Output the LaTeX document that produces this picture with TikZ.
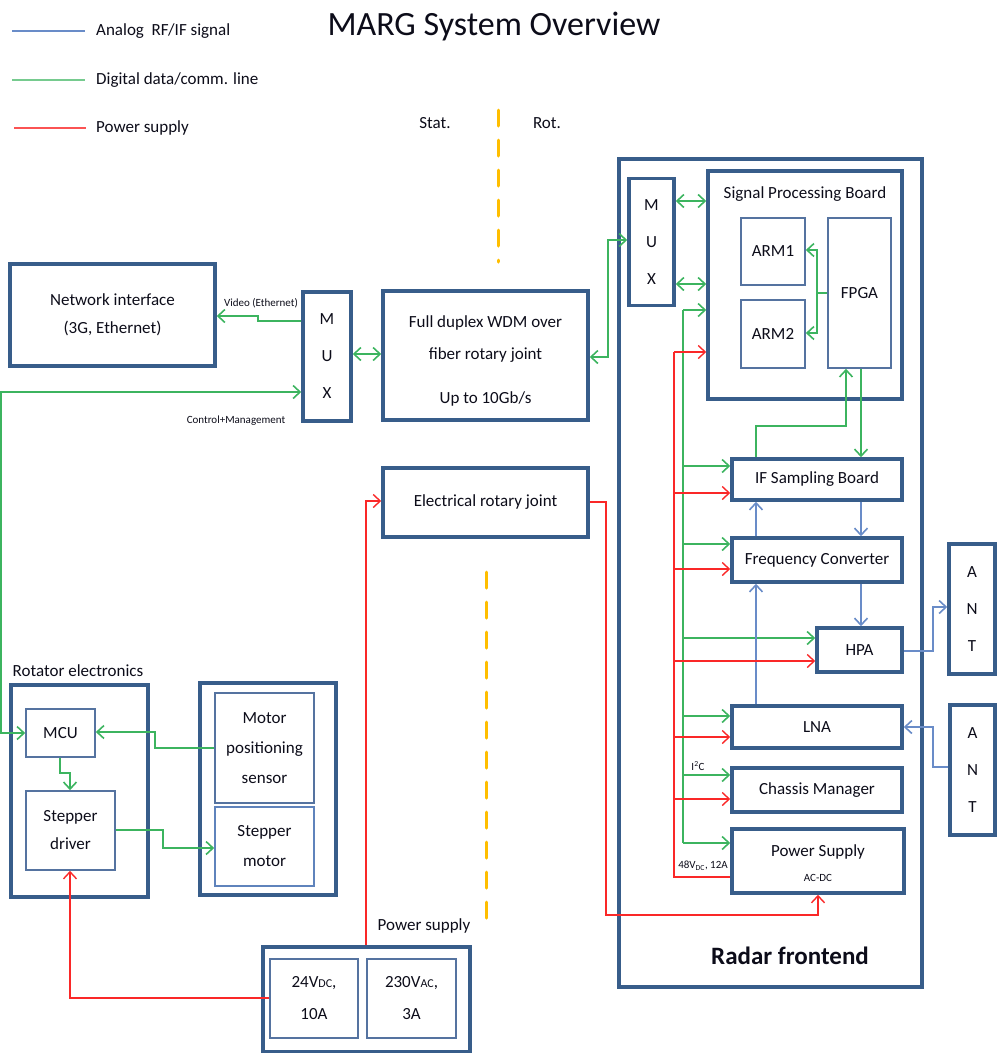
\documentclass[tikz,border=0pt]{standalone}
\usepackage{fontspec}
\setmainfont{Carlito}
\usetikzlibrary{arrows.meta,calc}
\definecolor{boxc}{RGB}{56,93,138}
\definecolor{thinc}{RGB}{85,115,160}
\definecolor{gline}{RGB}{60,180,95}
\definecolor{bline}{RGB}{105,140,200}
\definecolor{rline}{RGB}{250,40,40}
\definecolor{dashc}{RGB}{255,190,0}
\definecolor{txt}{RGB}{12,12,25}
\begin{document}
\begin{tikzpicture}[x=1pt,y=-1pt,
  every node/.style={text=txt},
  big/.style={draw=boxc, line width=3.5pt, rectangle, inner sep=0pt, align=center, font=\fontsize{17}{28}\selectfont},
  sml/.style={draw=thinc, line width=1.6pt, rectangle, inner sep=0pt, align=center, font=\fontsize{17}{28}\selectfont},
  muxt/.style={font=\fontsize{17}{37}\selectfont},
  lbl/.style={font=\fontsize{17}{20}\selectfont, inner sep=0pt},
  tiny/.style={font=\fontsize{11}{12}\selectfont, inner sep=0pt},
  dig/.style={draw=gline, line width=1.6pt},
  ana/.style={draw=bline, line width=1.6pt},
  pow/.style={draw=rline, line width=1.4pt},
  sep/.style={draw=dashc, line width=3pt, dash pattern=on 16pt off 14pt, line cap=round},
  >={Straight Barb[length=7pt,width=13pt]},
]
\useasboundingbox (0,0) rectangle (999,1053);

% title and legend
\node[font=\fontsize{34}{40}\selectfont, inner sep=0pt] (title) at (494,27) {MARG System Overview};
\coordinate (lg1a) at (12,31); \coordinate (lg1b) at (85,31);
\coordinate (lg2a) at (12,80); \coordinate (lg2b) at (85,80);
\coordinate (lg3a) at (14,128); \coordinate (lg3b) at (86,128);
\draw[ana, line width=1.3pt] (lg1a) -- (lg1b);
\draw[draw=gline!70, line width=2.5pt] (lg2a) -- (lg2b);
\draw[pow, draw=rline!80, line width=1.3pt] (lg3a) -- (lg3b);
\node[lbl, anchor=west] (lgt1) at (96,31) {Analog\ \ RF/IF signal};
\node[lbl, anchor=west] (lgt2) at (96,80) {Digital data/comm. line};
\node[lbl, anchor=west] (lgt3) at (96,128) {Power supply};

% stat/rot separator
\node[lbl] (stat) at (435,123) {Stat.};
\node[lbl] (rot) at (547,123) {Rot.};
\coordinate (s1a) at (498,110); \coordinate (s1b) at (498,262);
\coordinate (s2a) at (486,572); \coordinate (s2b) at (486,925);
\draw[sep] (s1a) -- (s1b);
\draw[sep] (s2a) -- (s2b);

% stationary side
\node[big, minimum width=205pt, minimum height=102pt] (ni) at (112.5,315) {Network interface\\(3G, Ethernet)};
\node[big, muxt, minimum width=48pt, minimum height=129pt] (mux1) at (327,356.5) {M\\U\\X};
\node[big, minimum width=205pt, minimum height=129pt] (wdm) at (485.5,355.5) {};
\node[lbl] (wdmt1) at (485.5,323) {Full duplex WDM over};
\node[lbl] (wdmt2) at (485.5,355) {fiber rotary joint};
\node[lbl] (wdmt3) at (485.5,399) {Up to 10Gb/s};
\node[big, minimum width=205pt, minimum height=69pt] (erj) at (485.5,502.5) {Electrical rotary joint};

\node[tiny] (vid) at (261,303) {Video (Ethernet)};
\node[tiny] (ctl) at (236,421) {Control+Management};

% rotator electronics
\node[lbl] (rott) at (78,671) {Rotator electronics};
\node[big, minimum width=137pt, minimum height=212pt] (rotb) at (79.5,791) {};
\node[sml, minimum width=69pt, minimum height=48pt] (mcu) at (60.5,733) {MCU};
\node[sml, minimum width=89pt, minimum height=79pt] (drv) at (70.5,830.5) {Stepper\\driver};
\node[big, minimum width=136pt, minimum height=212pt] (motb) at (268,789) {};
\node[sml, font=\fontsize{17}{30}\selectfont, minimum width=99pt, minimum height=110pt] (mps) at (264.5,748) {Motor\\positioning\\sensor};
\node[sml, draw=bline!80!boxc, font=\fontsize{17}{30}\selectfont, minimum width=99pt, minimum height=79pt] (smot) at (264.5,846.5) {Stepper\\motor};

% power supply
\node[lbl] (pwrt) at (424,926) {Power supply};
\node[big, minimum width=207pt, minimum height=105pt] (pwr) at (366.5,999.5) {};
\node[sml, font=\fontsize{17}{32}\selectfont, minimum width=88pt, minimum height=79pt] (v24) at (314,998.5) {24V{\fontsize{12}{12}\selectfont DC},\\10A};
\node[sml, font=\fontsize{17}{32}\selectfont, minimum width=89pt, minimum height=79pt] (v230) at (411.5,998.5) {230V{\fontsize{12}{12}\selectfont AC},\\3A};

% radar frontend
\node[big, minimum width=303pt, minimum height=828pt] (rf) at (770.5,573) {};
\node[font=\bfseries\fontsize{25}{30}\selectfont, inner sep=0pt] (rft) at (790,956) {Radar frontend};
\node[big, muxt, minimum width=45pt, minimum height=127pt] (mux2) at (651.5,242) {M\\U\\X};
\node[big, minimum width=194pt, minimum height=228pt] (spb) at (805,285) {};
\node[lbl] (spbt) at (805,194) {Signal Processing Board};
\node[sml, minimum width=64pt, minimum height=67pt] (arm1) at (773,251.5) {ARM1};
\node[sml, minimum width=64pt, minimum height=68pt] (arm2) at (773,334) {ARM2};
\node[sml, minimum width=63pt, minimum height=150pt] (fpga) at (859.5,293) {FPGA};
\node[big, minimum width=170pt, minimum height=41pt] (ifsb) at (817,479.5) {IF Sampling Board};
\node[big, minimum width=170pt, minimum height=44pt] (fc) at (817,560) {Frequency Converter};
\node[big, minimum width=85pt, minimum height=44pt] (hpa) at (859.5,650) {HPA};
\node[big, minimum width=170pt, minimum height=42pt] (lna) at (817,727) {LNA};
\node[big, minimum width=170pt, minimum height=44pt] (cm) at (817,790) {Chassis Manager};
\node[big, minimum width=172pt, minimum height=64pt] (psu) at (818,861) {};
\node[lbl] (psut1) at (818,852) {Power Supply};
\node[tiny] (psut2) at (818,878) {AC-DC};
\node[big, muxt, minimum width=46pt, minimum height=130pt] (ant1) at (972,609) {A\\N\\T};
\node[big, muxt, minimum width=45pt, minimum height=130pt] (ant2) at (972.5,770) {A\\N\\T};
\node[tiny] (i2c) at (698,766) {I\textsuperscript{2}C};
\node[tiny] (v48) at (703,866) {48V\textsubscript{DC}, 12A};

% --- digital connectors
\draw[dig,->] (mux1.west |- 0,321) -- (258,321) -- (258,316) -- (ni.east |- 0,316);
\draw[dig,<->] (mux1.west |- 0,392) -- (1,392) -- (1,733) -- (mcu.west);
\draw[dig,<->] (mux1.east |- 0,354) -- (wdm.west |- 0,354);
\draw[dig,<->] (wdm.east |- 0,357) -- (608,357) -- (608,240) -- (mux2.west |- 0,240);
\draw[dig,<->] (mux2.east |- 0,201) -- (spb.west |- 0,201);
\draw[dig,<->] (mux2.east |- 0,284) -- (spb.west |- 0,284);
\draw[dig,->] (fpga.west |- 0,293) -- (817,293) -- (817,250) -- (arm1.east |- 0,250);
\draw[dig,->] (817,293) -- (817,333) -- (arm2.east |- 0,333);
\draw[dig,->] (ifsb.north -| 756,0) -- (756,426) -- (846,426) -- (fpga.south -| 846,0);
\draw[dig,->] (fpga.south -| 861,0) -- (ifsb.north -| 861,0);
\draw[dig] (683,310) -- (683,843);
\draw[dig,->] (683,310) -- (spb.west |- 0,310);
\draw[dig,->] (683,466) -- (ifsb.west |- 0,466);
\draw[dig,->] (683,544) -- (fc.west |- 0,544);
\draw[dig,->] (683,638) -- (hpa.west |- 0,638);
\draw[dig,->] (683,716) -- (lna.west |- 0,716);
\draw[dig,->] (683,775) -- (cm.west |- 0,775);
\draw[dig,->] (683,843) -- (psu.west |- 0,843);
\draw[dig,->] (mps.west |- 0,748) -- (155,748) -- (155,732) -- (mcu.east |- 0,732);
\draw[dig,->] (mcu.south -| 60,0) -- (60,773) -- (70,773) -- (drv.north -| 70,0);
\draw[dig,->] (drv.east |- 0,830) -- (163,830) -- (163,848) -- (smot.west |- 0,848);

% --- analog connectors
\draw[ana,->] (ifsb.south -| 861,0) -- (fc.north -| 861,0);
\draw[ana,->] (fc.north -| 756,0) -- (ifsb.south -| 756,0);
\draw[ana,->] (fc.south -| 861,0) -- (hpa.north -| 861,0);
\draw[ana,->] (lna.north -| 756,0) -- (fc.south -| 756,0);
\draw[ana,->] (hpa.east |- 0,651) -- (933,651) -- (933,607) -- (ant1.west |- 0,607);
\draw[ana,->] (ant2.west |- 0,767) -- (933,767) -- (933,727) -- (lna.east |- 0,727);

% --- power connectors
\draw[pow] (psu.west |- 0,877) -- (674,877) -- (674,352);
\draw[pow,->] (674,352) -- (spb.west |- 0,352);
\draw[pow,->] (674,493) -- (ifsb.west |- 0,493);
\draw[pow,->] (674,569) -- (fc.west |- 0,569);
\draw[pow,->] (674,661) -- (hpa.west |- 0,661);
\draw[pow,->] (674,737) -- (lna.west |- 0,737);
\draw[pow,->] (674,799) -- (cm.west |- 0,799);
\draw[pow,->] (pwr.north -| 366,0) -- (366,501) -- (erj.west |- 0,501);
\draw[pow,->] (erj.east |- 0,502) -- (606,502) -- (606,915) -- (818,915) -- (psu.south -| 818,0);
\draw[pow,->] (v24.west |- 0,998) -- (70,998) -- (drv.south -| 70,0);
\end{tikzpicture}
\end{document}
